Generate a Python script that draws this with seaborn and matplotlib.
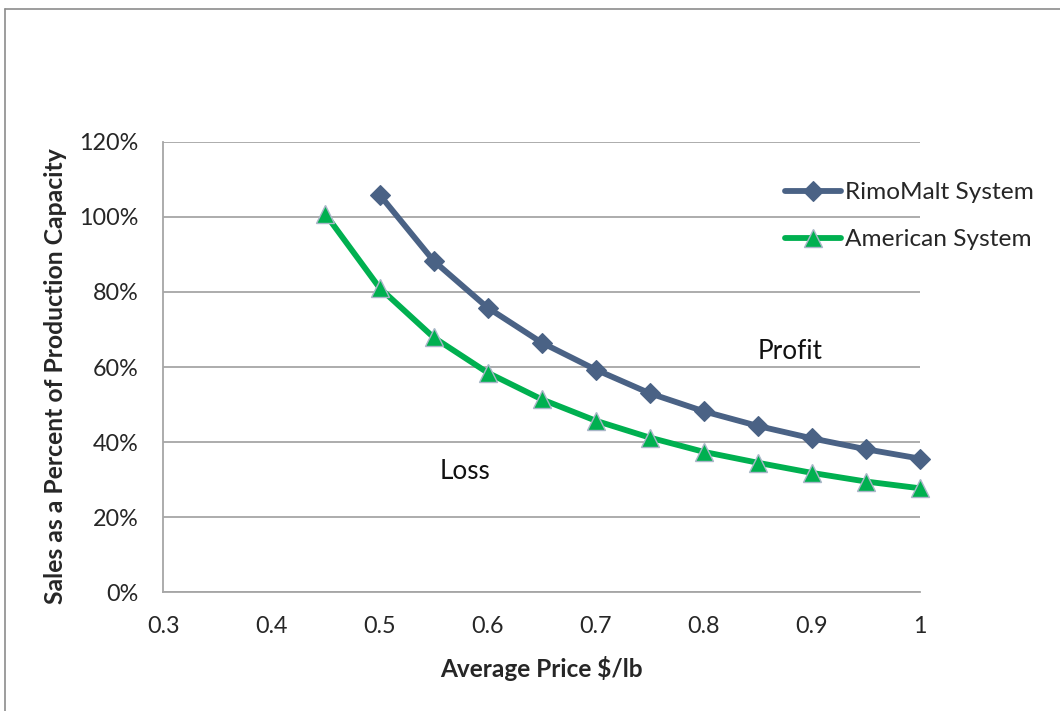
import matplotlib
matplotlib.use("Agg")
import matplotlib.pyplot as plt
from matplotlib.lines import Line2D
from matplotlib.ticker import PercentFormatter, MultipleLocator
import seaborn as sns
import pandas as pd

# Break-even sales (% of production capacity) versus average selling price
rimo_price = [0.50, 0.55, 0.60, 0.65, 0.70, 0.75, 0.80, 0.85, 0.90, 0.95, 1.00]
rimo_pct = [105.9, 88.3, 75.8, 66.5, 59.3, 53.0, 48.2, 44.3, 41.0, 38.1, 35.6]

american_price = [0.45, 0.50, 0.55, 0.60, 0.65, 0.70, 0.75, 0.80, 0.85, 0.90, 0.95, 1.00]
american_pct = [100.7, 81.1, 67.9, 58.5, 51.4, 45.7, 41.2, 37.4, 34.5, 31.8, 29.5, 27.7]

series_names = ["RimoMalt System", "American System"]
region_labels = ["Profit", "Loss"]
x_ticks = [0.3, 0.4, 0.5, 0.6, 0.7, 0.8, 0.9, 1.0]
x_tick_labels = ["0.3", "0.4", "0.5", "0.6", "0.7", "0.8", "0.9", "1"]

sns.set_theme(style="white")
plt.rcParams["font.family"] = ["Lato", "DejaVu Sans"]

fig = plt.figure(figsize=(10.6, 7.11), dpi=100)
ax = fig.add_axes([163.3 / 1060, 1 - 592.3 / 711, (920 - 163.3) / 1060, (592.3 - 141.7) / 711])

rimo_df = pd.DataFrame({"price": rimo_price, "pct": rimo_pct})
amer_df = pd.DataFrame({"price": american_price, "pct": american_pct})

blue = "#4A6285"
green = "#00B050"
text_col = "#262626"

sns.lineplot(data=rimo_df, x="price", y="pct", ax=ax, color=blue, linewidth=4.2,
             marker="D", markersize=10.5, markeredgecolor=blue, markeredgewidth=0.8,
             label=series_names[0], zorder=3, clip_on=False)
sns.lineplot(data=amer_df, x="price", y="pct", ax=ax, color=green, linewidth=4.2,
             marker="^", markersize=12.5, markeredgecolor="#A9B6C8", markeredgewidth=1.0,
             label=series_names[1], zorder=3, clip_on=False)

ax.set_xlim(0.3, 1.0)
ax.set_ylim(0, 120)
ax.yaxis.set_major_locator(MultipleLocator(20))
ax.yaxis.set_major_formatter(PercentFormatter(decimals=0))
ax.set_xticks(x_ticks)
ax.set_xticklabels(x_tick_labels)

ax.grid(axis="y", color="#A6A6A6", linewidth=1.3)
ax.grid(axis="x", visible=False)
for side in ["top", "right"]:
    ax.spines[side].set_visible(False)
for side in ["left", "bottom"]:
    ax.spines[side].set_color("#A6A6A6")
    ax.spines[side].set_linewidth(1.3)

ax.tick_params(axis="both", length=0, labelsize=16.8, colors=text_col)
ax.tick_params(axis="y", pad=18)
ax.tick_params(axis="x", pad=17)

ax.set_xlabel("Average Price $/lb", fontsize=17.6, fontweight="bold", color=text_col, labelpad=14)
ax.set_ylabel("Sales as a Percent of Production Capacity", fontsize=17.8, fontweight="bold",
              color=text_col)
ax.yaxis.set_label_coords((67 - 163.3) / 756.7, (592.3 - 376.5) / 450.6)

ax.text(0.88, 64.2, region_labels[0], fontsize=18.8, color="#111111", ha="center", va="center")
ax.text(0.579, 32.3, region_labels[1], fontsize=18.8, color="#111111", ha="center", va="center")

leg = ax.legend(loc="upper left", bbox_to_anchor=((785 - 163.3) / 756.7, (592.3 - 182) / 450.6),
                frameon=False, fontsize=17.6, handlelength=2.3, handletextpad=0.15,
                labelspacing=1.07, borderaxespad=0, borderpad=0)
for t in leg.get_texts():
    t.set_color(text_col)

# outer chart border (top and left edges)
fig.add_artist(Line2D([5 / 1060, 5 / 1060], [0, 1 - 9 / 711], transform=fig.transFigure,
                      color="#8C8C8C", linewidth=1.2))
fig.add_artist(Line2D([5 / 1060, 1], [1 - 9 / 711, 1 - 9 / 711], transform=fig.transFigure,
                      color="#8C8C8C", linewidth=1.2))

fig.savefig("out.png", dpi=100)
